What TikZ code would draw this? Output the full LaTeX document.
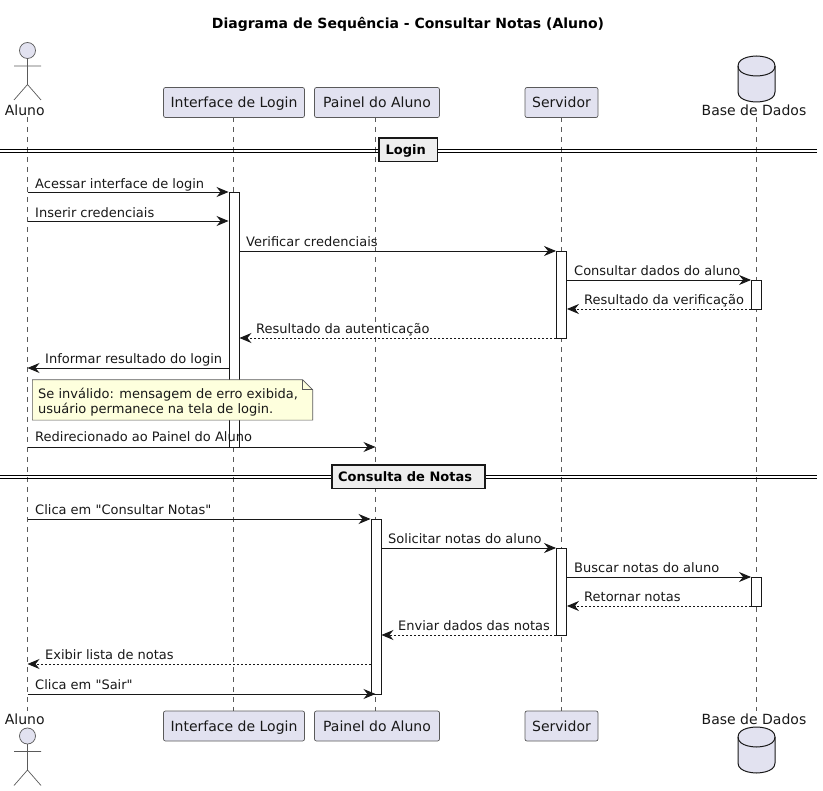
\documentclass[tikz,border=0pt]{standalone}
\usepackage{fontspec}
\setmainfont{DejaVu Sans}
\newfontfamily\plainfam{DejaVu Sans}
\usetikzlibrary{arrows.meta,calc}
\definecolor{partfill}{HTML}{E2E2F0}
\definecolor{partline}{HTML}{5A5A5A}
\definecolor{ink}{HTML}{181818}
\definecolor{notefill}{HTML}{FEFFDD}
\definecolor{divfill}{HTML}{EEEEEE}
\tikzset{
  x=1pt,y=-1pt,
  partbox/.style={draw=partline,fill=partfill,rounded corners=2pt,line width=.7pt,minimum height=30pt,inner sep=0pt,font=\fontsize{14}{16}\selectfont,text=ink},
  lifeline/.style={draw=partline,line width=.6pt,dash pattern=on 5pt off 5pt},
  activation/.style={draw=ink,fill=white,line width=.9pt,minimum width=10pt,inner sep=0pt},
  msg/.style={draw=ink,line width=.9pt,-{Stealth[length=12pt,width=10pt,inset=4pt]}},
  ret/.style={msg,dash pattern=on 2pt off 2pt},
  msgtext/.style={font=\plainfam\fontsize{13}{15}\selectfont,text=ink,inner sep=0pt},
  partlabel/.style={font=\fontsize{14}{16}\selectfont,text=ink,inner sep=0pt,anchor=base},
  actorline/.style={draw=partline,line width=.7pt,fill=none},
  divbox/.style={draw=ink,fill=divfill,line width=1.6pt,inner sep=0pt,minimum height=23.4pt},
  divtext/.style={font=\fontsize{13}{15}\selectfont\bfseries,text=black,inner sep=0pt,anchor=base west},
  divline/.style={draw=black,line width=1pt},
  dbshape/.style={draw=ink,fill=partfill,line width=1pt},
}
\newcommand{\actorfig}[2]{% x, head cy
  \draw[actorline,fill=partfill] (#1,#2) circle[radius=8];
  \draw[actorline] (#1,#2+8) -- (#1,#2+34) (#1-13.5,#2+15.5) -- (#1+13.5,#2+15.5)
    (#1-13.5,#2+49.5) -- (#1,#2+34) -- (#1+13.5,#2+49.5);}
\newcommand{\dbfig}[2]{% x, top y
  \draw[dbshape] (#1-18.5,#2+10) .. controls (#1-18.5,#2) and (#1,#2) .. (#1,#2)
    .. controls (#1,#2) and (#1+18.5,#2) .. (#1+18.5,#2+10) -- (#1+18.5,#2+36)
    .. controls (#1+18.5,#2+46) and (#1,#2+46) .. (#1,#2+46)
    .. controls (#1,#2+46) and (#1-18.5,#2+46) .. (#1-18.5,#2+36) -- cycle;
  \draw[dbshape,fill=none] (#1-18.5,#2+10) .. controls (#1-18.5,#2+20) and (#1,#2+20) .. (#1,#2+20)
    .. controls (#1,#2+20) and (#1+18.5,#2+20) .. (#1+18.5,#2+10);}
\begin{document}
\begin{tikzpicture}
\useasboundingbox (0,0) rectangle (823,791);
\node[font=\fontsize{14}{16}\selectfont\bfseries,text=black,inner sep=0pt,anchor=base] (title) at (408,28.5) {Diagrama de Sequência - Consultar Notas (Aluno)};

% lifelines
\coordinate (aT) at (27.5,117);\coordinate (aB) at (27.5,711);
\coordinate (iT) at (233.5,117);\coordinate (iB) at (233.5,711);
\coordinate (pT) at (375.5,117);\coordinate (pB) at (375.5,711);
\coordinate (sT) at (561.5,117);\coordinate (sB) at (561.5,711);
\coordinate (dT) at (756.5,117);\coordinate (dB) at (756.5,711);
\foreach \n in {a,i,p,s,d}{\draw[lifeline] (\n T) -- (\n B);}

% participants
\actorfig{27.5}{50.5}
\node[partlabel] (aluno1) at (24.7,115.5) {Aluno};
\node[partbox,minimum width=141pt,text depth=1pt] (login1) at (234,102.5) {\raisebox{-1pt}{Interface de Login}};
\node[partbox,minimum width=125pt] (painel1) at (377,102.5) {\raisebox{-1pt}{Painel do Aluno}};
\node[partbox,minimum width=73pt] (serv1) at (561.5,102.5) {\raisebox{-1pt}{Servidor}};
\dbfig{756.5}{56}
\node[partlabel] (base1) at (754,115.5) {Base de Dados};

\actorfig{27.5}{736}
\node[partlabel] (aluno2) at (24.7,724.5) {Aluno};
\node[partbox,minimum width=141pt,text depth=1pt] (login2) at (234,726) {\raisebox{-1pt}{Interface de Login}};
\node[partbox,minimum width=125pt] (painel2) at (377,726) {\raisebox{-1pt}{Painel do Aluno}};
\node[partbox,minimum width=73pt] (serv2) at (561.5,726) {\raisebox{-1pt}{Servidor}};
\dbfig{756.5}{727}
\node[partlabel] (base2) at (754,724.5) {Base de Dados};

% activations
\node[activation,minimum height=255pt] (ai1) at (234,319.5) {};
\node[activation,minimum height=87pt] (as1) at (561.5,294.5) {};
\node[activation,minimum height=29pt] (ad1) at (756.5,294.5) {};
\node[activation,minimum height=175pt] (ap2) at (376,606.5) {};
\node[activation,minimum height=87pt] (as2) at (561.5,591.5) {};
\node[activation,minimum height=29pt] (ad2) at (756.5,591.5) {};

% dividers
\draw[divline] (0,149.3) -- (817,149.3) (0,152.4) -- (817,152.4);
\node[divbox,minimum width=58.5pt] (sep1) at (408.3,150) {};
\node[divtext] (sep1t) at (385.5,155) {Login};
\draw[divline] (0,475.1) -- (817,475.1) (0,478.3) -- (817,478.3);
\node[divbox,minimum width=153pt] (sep2) at (408.5,477) {};
\node[divtext] (sep2t) at (338,481.5) {Consulta de Notas};

% note
\node[inner sep=0pt,minimum width=280pt,minimum height=40pt] (note) at (172.5,400) {};
\draw[draw=partline,fill=notefill,line width=.6pt] (note.north west) -- ($(note.north east)+(-10,0)$) -- ($(note.north east)+(0,10)$) -- (note.south east) -- (note.south west) -- cycle;
\draw[draw=partline,line width=.6pt] ($(note.north east)+(-10,0)$) -- ($(note.north east)+(-10,10)$) -- ($(note.north east)+(0,10)$);
\node[msgtext,anchor=base west] (n1) at (38,398.5) {Se inválido: mensagem de erro exibida,};
\node[msgtext,anchor=base west] (n2) at (38,413.5) {usuário permanece na tela de login.};

% message rows
\foreach \m/\y in {a/192,b/221,c/251,d/280,e/309,f/338,g/368,h/447,i/519,j/548,k/577,l/606,m/635,n/664,o/694}{\coordinate (r\m) at (0,\y);}

\draw[msg] (aT|-ra) -- (ai1.west|-ra);
\node[msgtext,anchor=base west] (t1) at (35,189) {Acessar interface de login};
\draw[msg] (aT|-rb) -- (ai1.west|-rb);
\node[msgtext,anchor=base west] (t2) at (35,218) {Inserir credenciais};
\draw[msg] (ai1.east|-rc) -- (as1.west|-rc);
\node[msgtext,anchor=base west] (t3) at (246,247) {Verificar credenciais};
\draw[msg] (as1.east|-rd) -- (ad1.west|-rd);
\node[msgtext,anchor=base west] (t4) at (574,276) {Consultar dados do aluno};
\draw[ret] (ad1.west|-re) -- (as1.east|-re);
\node[msgtext,anchor=base west] (t5) at (584,305) {Resultado da verificação};
\draw[ret] (as1.west|-rf) -- (ai1.east|-rf);
\node[msgtext,anchor=base west] (t6) at (256,334) {Resultado da autenticação};
\draw[msg] (ai1.west|-rg) -- (aT|-rg);
\node[msgtext,anchor=base west] (t7) at (45,364) {Informar resultado do login};
\draw[msg] (aT|-rh) -- (pT|-rh);
\node[msgtext,anchor=base west] (t8) at (35,442) {Redirecionado ao Painel do Aluno};
\draw[msg] (aT|-ri) -- (ap2.west|-ri);
\node[msgtext,anchor=base west] (t9) at (35,515) {Clica em "Consultar Notas"};
\draw[msg] (ap2.east|-rj) -- (as2.west|-rj);
\node[msgtext,anchor=base west] (t10) at (388,544) {Solicitar notas do aluno};
\draw[msg] (as2.east|-rk) -- (ad2.west|-rk);
\node[msgtext,anchor=base west] (t11) at (574,573) {Buscar notas do aluno};
\draw[ret] (ad2.west|-rl) -- (as2.east|-rl);
\node[msgtext,anchor=base west] (t12) at (584,602) {Retornar notas};
\draw[ret] (as2.west|-rm) -- (ap2.east|-rm);
\node[msgtext,anchor=base west] (t13) at (398,631) {Enviar dados das notas};
\draw[ret] (ap2.west|-rn) -- (aT|-rn);
\node[msgtext,anchor=base west] (t14) at (45,660) {Exibir lista de notas};
\draw[msg] (aT|-ro) -- (pT|-ro);
\node[msgtext,anchor=base west] (t15) at (35,690) {Clica em "Sair"};
\end{tikzpicture}
\end{document}
